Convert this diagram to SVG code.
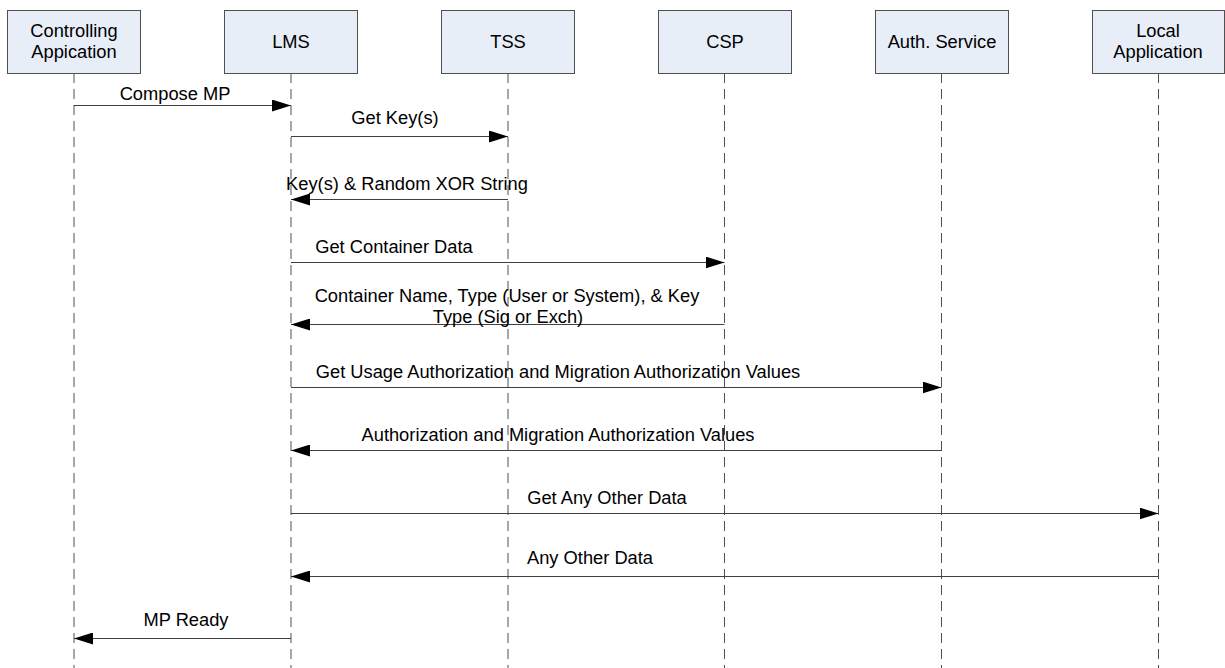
<svg xmlns="http://www.w3.org/2000/svg" width="1225" height="668" viewBox="0 0 1225 668">
<style>
.box{fill:#E8EEF8;stroke:#505050;stroke-width:1}
.t{font-family:"Liberation Sans",Arial,sans-serif;font-size:18.3px;fill:#000;text-anchor:middle}
.life{stroke:#505050;stroke-width:1;stroke-dasharray:10 6;fill:none}
.msg{stroke:#404040;stroke-width:1;fill:none;marker-end:url(#ah)}
</style>
<defs>
<marker id="ah" viewBox="0 0 19 12" refX="19" refY="6" markerWidth="19" markerHeight="12" markerUnits="userSpaceOnUse" orient="auto">
<path d="M0,0 L19,6 L0,12 Z" fill="#000"/>
</marker>
</defs>
<rect width="1225" height="668" fill="#fff"/>
<g id="lifelines">
<line class="life" x1="74" y1="73" x2="74" y2="668"/>
<line class="life" x1="291" y1="73" x2="291" y2="668"/>
<line class="life" x1="508" y1="73" x2="508" y2="668"/>
<line class="life" x1="724.5" y1="73" x2="724.5" y2="668"/>
<line class="life" x1="941.5" y1="73" x2="941.5" y2="668"/>
<line class="life" x1="1158.5" y1="73" x2="1158.5" y2="668"/>
</g>
<g id="n-controlling"><rect class="box" x="7.5" y="10.5" width="133" height="63"/><text class="t" x="74" y="37">Controlling</text><text class="t" x="74" y="58">Appication</text></g>
<g id="n-lms"><rect class="box" x="224.5" y="10.5" width="133" height="63"/><text class="t" x="291" y="48">LMS</text></g>
<g id="n-tss"><rect class="box" x="441.5" y="10.5" width="133" height="63"/><text class="t" x="508" y="48">TSS</text></g>
<g id="n-csp"><rect class="box" x="658.5" y="10.5" width="133" height="63"/><text class="t" x="725" y="48">CSP</text></g>
<g id="n-auth"><rect class="box" x="875.5" y="10.5" width="133" height="63"/><text class="t" x="942" y="48">Auth. Service</text></g>
<g id="n-local"><rect class="box" x="1092.5" y="10.5" width="132" height="63"/><text class="t" x="1158" y="37">Local</text><text class="t" x="1158" y="58">Application</text></g>
<g id="connectors">
<line class="msg" x1="74" y1="105.5" x2="291" y2="105.5"/>
<line class="msg" x1="291" y1="136.5" x2="508" y2="136.5"/>
<line class="msg" x1="508" y1="199.5" x2="291" y2="199.5"/>
<line class="msg" x1="291" y1="262.5" x2="724.5" y2="262.5"/>
<line class="msg" x1="724.5" y1="324.5" x2="291" y2="324.5"/>
<line class="msg" x1="291" y1="387.5" x2="941.5" y2="387.5"/>
<line class="msg" x1="941.5" y1="450.5" x2="291" y2="450.5"/>
<line class="msg" x1="291" y1="513.5" x2="1158.5" y2="513.5"/>
<line class="msg" x1="1158.5" y1="576.5" x2="291" y2="576.5"/>
<line class="msg" x1="291" y1="638.5" x2="74" y2="638.5"/>
</g>
<g id="labels">
<text class="t" x="175" y="100">Compose MP</text>
<text class="t" x="395" y="124">Get Key(s)</text>
<text class="t" x="407" y="190">Key(s) &amp; Random XOR String</text>
<text class="t" x="394" y="253">Get Container Data</text>
<text class="t" x="507" y="302">Container Name, Type (User or System), &amp; Key</text>
<text class="t" x="508" y="323">Type (Sig or Exch)</text>
<text class="t" x="558" y="378">Get Usage Authorization and Migration Authorization Values</text>
<text class="t" x="558" y="441">Authorization and Migration Authorization Values</text>
<text class="t" x="607" y="504">Get Any Other Data</text>
<text class="t" x="590" y="564">Any Other Data</text>
<text class="t" x="186" y="626">MP Ready</text>
</g>
</svg>
